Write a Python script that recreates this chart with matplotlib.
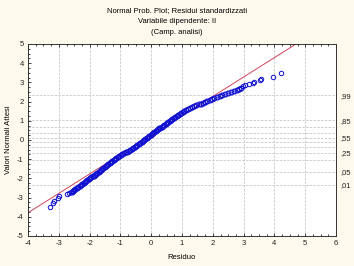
import numpy as np
import matplotlib.pyplot as plt
from matplotlib.ticker import MultipleLocator
from statistics import NormalDist

# residuals (x) and expected normal values (y), read along the plotted band
band_y = [-2.70, -2.65, -2.60, -2.55, -2.50, -2.45, -2.40, -2.35, -2.30, -2.25,
          -2.20, -2.15, -2.10, -2.05, -2.00, -1.95, -1.90, -1.85, -1.80, -1.75,
          -1.70, -1.65, -1.60, -1.55, -1.50, -1.45, -1.40, -1.35, -1.30, -1.25,
          -1.20, -1.15, -1.10, -1.05, -1.00, -0.95, -0.90, -0.85, -0.80, -0.75,
          -0.70, -0.65, -0.60, -0.55, -0.50, -0.45, -0.40, -0.35, -0.30, -0.25,
          -0.20, -0.15, -0.10, -0.05, 0.00, 0.05, 0.10, 0.15, 0.20, 0.25,
          0.30, 0.35, 0.40, 0.45, 0.50, 0.55, 0.60, 0.65, 0.70, 0.75,
          0.80, 0.85, 0.90, 0.95, 1.00, 1.05, 1.10, 1.15, 1.20, 1.25,
          1.30, 1.35, 1.40, 1.45, 1.50, 1.55, 1.60, 1.65, 1.70, 1.75,
          1.80, 1.85, 1.90, 1.95, 2.00, 2.05, 2.10, 2.15, 2.20, 2.25,
          2.30, 2.35, 2.40, 2.45, 2.50, 2.55, 2.60, 2.65, 2.70]
band_x = [-2.57, -2.53, -2.50, -2.46, -2.41, -2.37, -2.32, -2.28, -2.24, -2.19,
          -2.15, -2.11, -2.07, -2.02, -1.98, -1.94, -1.90, -1.86, -1.82, -1.78,
          -1.75, -1.71, -1.67, -1.63, -1.59, -1.55, -1.51, -1.47, -1.43, -1.39,
          -1.35, -1.31, -1.26, -1.22, -1.18, -1.13, -1.08, -1.04, -0.99, -0.94,
          -0.88, -0.83, -0.78, -0.73, -0.68, -0.63, -0.58, -0.54, -0.49, -0.45,
          -0.40, -0.36, -0.31, -0.27, -0.23, -0.19, -0.14, -0.10, -0.06, -0.02,
          0.02, 0.06, 0.10, 0.14, 0.18, 0.22, 0.26, 0.30, 0.35, 0.39,
          0.43, 0.47, 0.52, 0.56, 0.60, 0.65, 0.69, 0.74, 0.78, 0.83,
          0.87, 0.92, 0.96, 1.02, 1.07, 1.13, 1.18, 1.25, 1.32, 1.40,
          1.47, 1.54, 1.61, 1.68, 1.75, 1.82, 1.90, 1.97, 2.05, 2.13,
          2.22, 2.30, 2.38, 2.48, 2.58, 2.68, 2.78, 2.86, 2.90]

# isolated points in the two tails
tail_x = [-3.29, -3.19, -3.16, -3.03, -3.00, -2.74, -2.67, -2.62,
          2.97, 3.05, 3.19, 3.29, 3.35, 3.52, 3.57, 3.97, 4.22]
tail_y = [-3.50, -3.30, -3.20, -3.00, -2.93, -2.83, -2.77, -2.73,
          2.79, 2.84, 2.91, 2.97, 3.00, 3.10, 3.18, 3.26, 3.49]

# reference line
line_a = 0.25
line_b = 1.01

# probability grid / right axis
grid_p = [.01, .05, .15, .25, .35, .45, .55, .65, .75, .85, .99]
right_p = [.01, .05, .25, .55, .85, .99]
right_labels = [',01', ',05', ',25', ',55', ',85', ',99']

plt.rcParams['font.family'] = ['Liberation Sans', 'DejaVu Sans']
plt.rcParams['axes.unicode_minus'] = False

bg = '#fdf9ec'
fig = plt.figure(figsize=(3.54, 2.66), dpi=100, facecolor=bg)
ax = fig.add_axes([28/354, 30/266, 308/354, 192/266])
ax.set_facecolor('white')

ax.set_xlim(-4, 6)
ax.set_ylim(-5, 5)
ax.xaxis.set_major_locator(MultipleLocator(1))
ax.yaxis.set_major_locator(MultipleLocator(1))
ax.xaxis.set_minor_locator(MultipleLocator(0.25))
ax.yaxis.set_minor_locator(MultipleLocator(0.25))

nd = NormalDist()
for p in grid_p:
    ax.axhline(nd.inv_cdf(p), color='#c8c8c8', lw=0.6, ls=(0, (3, 1.5)), zorder=0)
for xv in range(-3, 6):
    ax.axvline(xv, color='#c8c8c8', lw=0.6, ls=(0, (3, 1.5)), zorder=0)

xs = np.array([-4, 6])
ax.plot(xs, line_a + line_b * xs, color='#d0425e', lw=0.7, zorder=2)

ax.plot(band_x, band_y, 'o', mfc='none', mec='#1010d0', ms=3.4, mew=0.9, zorder=3)
ax.plot(tail_x, tail_y, 'o', mfc='none', mec='#1010d0', ms=3.2, mew=0.7, zorder=3)

ax.tick_params(which='both', direction='in', top=True, right=True,
               labelsize=5.5, width=0.6, colors='#222222', pad=3)
ax.tick_params(which='major', length=2.5)
ax.tick_params(which='minor', length=1.2)
for s in ax.spines.values():
    s.set_linewidth(0.7)
    s.set_color('#333333')

ax2 = ax.twinx()
ax2.set_ylim(-5, 5)
ax2.set_yticks([nd.inv_cdf(p) for p in right_p])
ax2.set_yticklabels(right_labels)
ax2.tick_params(length=0, labelsize=5.5, pad=3, colors='#222222')
for s in ax2.spines.values():
    s.set_visible(False)

ax.set_xlabel('Residuo', fontsize=5.5, labelpad=5)
ax.set_ylabel('Valori Normali Attesi', fontsize=5.5, labelpad=4)
fig.text(0.5, 1 - 11/266, 'Normal Prob. Plot; Residui standardizzati', ha='center', va='center', fontsize=5.5)
fig.text(0.5, 1 - 22/266, 'Variabile dipendente: II', ha='center', va='center', fontsize=5.5)
fig.text(0.5, 1 - 33/266, '(Camp. analisi)', ha='center', va='center', fontsize=5.5)

plt.savefig('out.png', dpi=100, facecolor=bg)
